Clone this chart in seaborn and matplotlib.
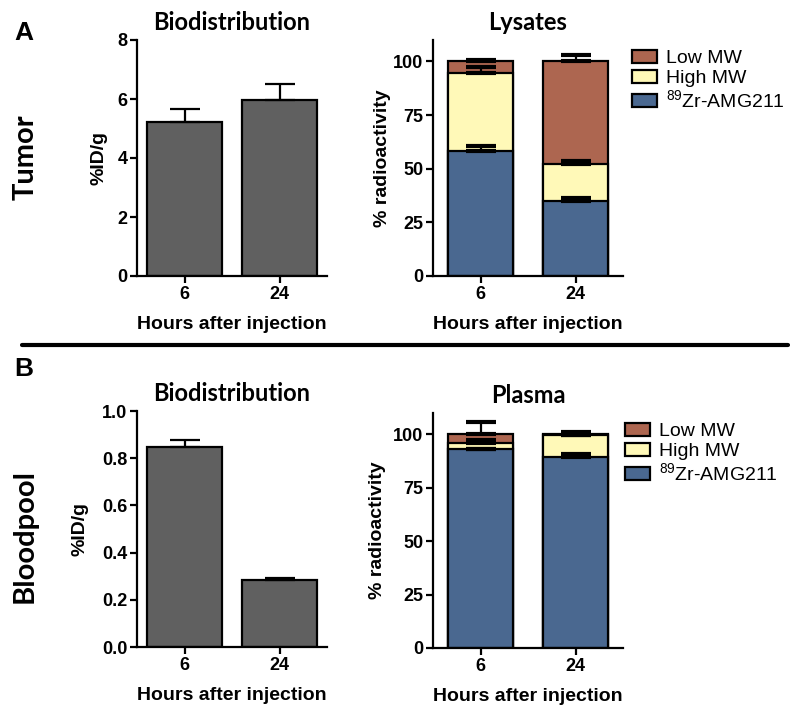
import matplotlib
matplotlib.use("Agg")
import matplotlib.pyplot as plt
from matplotlib.patches import Patch
from matplotlib.lines import Line2D
import seaborn as sns
import pandas as pd

# ---------------- data ----------------
hours = ["6", "24"]

tumor_biodist = [5.22, 5.98]
tumor_biodist_err = [0.45, 0.53]

blood_biodist = [0.849, 0.286]
blood_biodist_err = [0.028, 0.008]

lys_amg = [58.3, 35.0]
lys_amg_err = [2.4, 1.4]
lys_high = [36.3, 17.1]
lys_high_err = [2.9, 1.7]
lys_low = [5.4, 47.9]
lys_low_err = [0.7, 3.0]

plasma_amg = [93.0, 89.4]
plasma_amg_err = [0.0, 1.3]
plasma_high = [3.0, 10.3]
plasma_high_err = [1.5, 0.0]
plasma_low = [4.0, 0.3]
plasma_low_err = [5.7, 1.1]

series_labels = ["Low MW", "High MW", r"$^{89}$Zr-AMG211"]

# ---------------- style ----------------
sns.set_style("ticks")
plt.rcParams["font.family"] = ["Liberation Sans", "DejaVu Sans"]
plt.rcParams["mathtext.default"] = "regular"
plt.rcParams["axes.linewidth"] = 1.6
plt.rcParams["xtick.major.width"] = 1.6
plt.rcParams["ytick.major.width"] = 1.6
plt.rcParams["xtick.major.size"] = 5
plt.rcParams["ytick.major.size"] = 5
plt.rcParams["axes.edgecolor"] = "black"
plt.rcParams["text.color"] = "black"
plt.rcParams["axes.labelcolor"] = "black"
plt.rcParams["xtick.color"] = "black"
plt.rcParams["ytick.color"] = "black"

GRAY = "#606060"
BLUE = "#4a6890"
YELLOW = "#fff9b8"
BROWN = "#ad6650"
TITLE_FONT = ["Lato", "DejaVu Sans"]

W, H = 800, 716
fig = plt.figure(figsize=(W / 100, H / 100), dpi=100)


def add_ax(x0, y0, x1, y1):
    return fig.add_axes([x0 / W, 1 - y1 / H, (x1 - x0) / W, (y1 - y0) / H])


def style_axis(ax, title, ylabel, ylab_x, title_pad=7):
    sns.despine(ax=ax)
    ax.set_xlim(-0.5, 1.5)
    ax.set_title(title, fontsize=17, fontweight="bold", family=TITLE_FONT, pad=title_pad)
    ax.set_xlabel("Hours after injection", fontsize=14, fontweight="bold")
    ax.xaxis.set_label_coords(0.5, -0.17)
    ax.set_ylabel(ylabel, fontsize=14, fontweight="bold")
    ax.yaxis.set_label_coords(ylab_x, 0.5)
    ax.tick_params(axis="both", labelsize=13, colors="black", pad=2)
    for lab in ax.get_xticklabels() + ax.get_yticklabels():
        lab.set_fontweight("bold")


def simple_bars(ax, vals, errs, width=0.78):
    df = pd.DataFrame({"h": hours, "v": vals})
    sns.barplot(data=df, x="h", y="v", ax=ax, color=GRAY, saturation=1,
                edgecolor="black", linewidth=1.6, width=width, errorbar=None)
    ax.errorbar(range(len(hours)), vals, yerr=[[0] * len(errs), errs], fmt="none",
                ecolor="black", elinewidth=1.6, capsize=11, capthick=1.6, zorder=1)


def stacked_bars(ax, amg, high, low, amg_e, high_e, low_e, width=0.68):
    c_amg = list(amg)
    c_high = [a + b for a, b in zip(amg, high)]
    c_low = [a + b + c for a, b, c in zip(amg, high, low)]
    for cum, col in [(c_low, BROWN), (c_high, YELLOW), (c_amg, BLUE)]:
        df = pd.DataFrame({"h": hours, "v": cum})
        sns.barplot(data=df, x="h", y="v", ax=ax, color=col, saturation=1,
                    edgecolor="black", linewidth=1.6, width=width, errorbar=None)
    for cum, e in [(c_amg, amg_e), (c_high, high_e), (c_low, low_e)]:
        ax.errorbar(range(len(hours)), cum, yerr=[[0] * len(e), e], fmt="none",
                    ecolor="black", elinewidth=1.6, capsize=11, capthick=3, zorder=5)
    ax.set_ylim(0, 110)
    ax.set_yticks([0, 25, 50, 75, 100])


def add_legend(x, y):
    handles = [Patch(facecolor=c, edgecolor="black", linewidth=1.6) for c in (BROWN, YELLOW, BLUE)]
    fig.legend(handles, series_labels, loc="upper left", bbox_to_anchor=(x / W, 1 - y / H),
               frameon=False, fontsize=14, handlelength=1.3, handleheight=0.68,
               handletextpad=0.45, labelspacing=0.12, borderpad=0, borderaxespad=0)


# ---- A: Tumor biodistribution
ax1 = add_ax(137, 40, 327, 276)
simple_bars(ax1, tumor_biodist, tumor_biodist_err)
ax1.set_ylim(0, 8)
ax1.set_yticks([0, 2, 4, 6, 8])
style_axis(ax1, "Biodistribution", "%ID/g", -0.155)

# ---- A: Lysates
ax2 = add_ax(433, 40, 623, 276)
stacked_bars(ax2, lys_amg, lys_high, lys_low, lys_amg_err, lys_high_err, lys_low_err)
style_axis(ax2, "Lysates", "% radioactivity", -0.22)
add_legend(632, 50)

# ---- B: Bloodpool biodistribution
ax3 = add_ax(137, 411, 327, 647)
simple_bars(ax3, blood_biodist, blood_biodist_err)
ax3.set_ylim(0, 1.0)
ax3.set_yticks([0, 0.2, 0.4, 0.6, 0.8, 1.0])
ax3.yaxis.set_major_formatter(matplotlib.ticker.FormatStrFormatter("%.1f"))
style_axis(ax3, "Biodistribution", "%ID/g", -0.255)

# ---- B: Plasma
ax4 = add_ax(433, 413, 623, 648)
stacked_bars(ax4, plasma_amg, plasma_high, plasma_low, plasma_amg_err, plasma_high_err, plasma_low_err)
style_axis(ax4, "Plasma", "% radioactivity", -0.25)
add_legend(625, 423)

# ---- panel labels and row labels
fig.text(14 / W, 1 - 33 / H, "A", fontsize=19, fontweight="bold", va="center", ha="left")
fig.text(14 / W, 1 - 369 / H, "B", fontsize=19, fontweight="bold", va="center", ha="left")
fig.text(26 / W, 1 - 157 / H, "Tumor", fontsize=21, fontweight="bold", family=TITLE_FONT,
         rotation=90, va="center", ha="center")
fig.text(25 / W, 1 - 536 / H, "Bloodpool", fontsize=21, fontweight="bold", family=TITLE_FONT,
         rotation=90, va="center", ha="center")

fig.add_artist(Line2D([22 / W, 788 / W], [1 - 345 / H, 1 - 345 / H], color="black", lw=3))

fig.savefig("out.png", dpi=100)
